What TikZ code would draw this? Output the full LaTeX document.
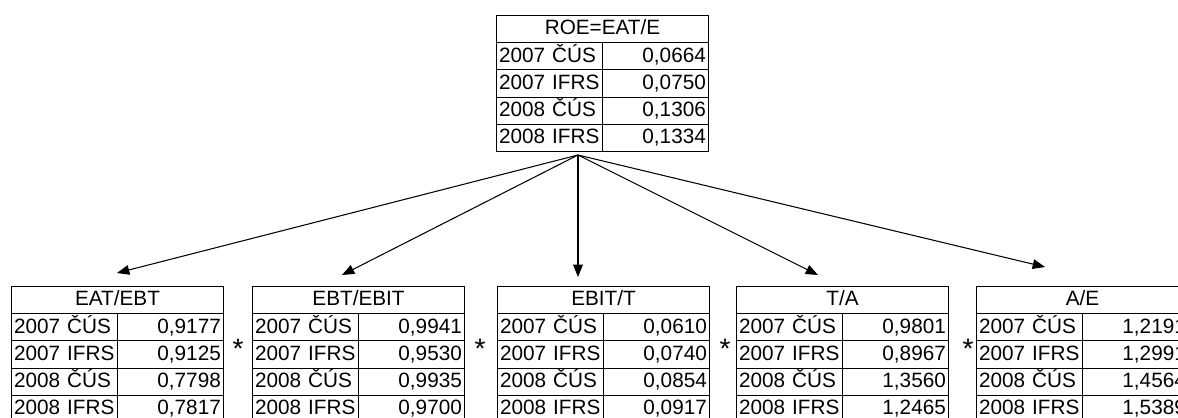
\documentclass[tikz,border=0pt]{standalone}
\usepackage{fontspec}
\setmainfont{Liberation Sans}
\usetikzlibrary{arrows.meta}
\usetikzlibrary{positioning}
\tikzstyle{head}=[shape=rectangle,draw,inner sep=0pt,minimum width=4.24cm,minimum height=0.544cm,text height=9pt,text depth=2.5pt,anchor=north west]
\tikzstyle{lcell}=[shape=rectangle,draw,inner xsep=1.5pt,inner ysep=0pt,text width=2.014cm,align=left,minimum height=0.544cm,text height=9pt,text depth=2.5pt,anchor=north west]
\tikzstyle{rcell}=[shape=rectangle,draw,inner xsep=1.5pt,inner ysep=0pt,text width=2.014cm,align=right,minimum height=0.544cm,text height=9pt,text depth=2.5pt,anchor=north west]
\tikzstyle{tran}=[draw,-{Triangle[length=7pt,width=5.5pt]}]
\tikzstyle{times}=[inner sep=0pt,anchor=base,font=\fontsize{16}{16}\selectfont]
% one ratio table: name, x, y, title, four values
\newcommand{\ratiotab}[8]{%
\node[head] (#1) at (#2,#3) {#4};
\node[lcell] (#1-a) at (#2,#3+27.2) {2007 ČÚS};
\node[rcell] (#1-va) at (#2+106,#3+27.2) {#5};
\node[lcell] (#1-b) at (#2,#3+54.4) {2007 IFRS};
\node[rcell] (#1-vb) at (#2+106,#3+54.4) {#6};
\node[lcell] (#1-c) at (#2,#3+81.6) {2008 ČÚS};
\node[rcell] (#1-vc) at (#2+106,#3+81.6) {#7};
\node[lcell] (#1-d) at (#2,#3+108.8) {2008 IFRS};
\node[rcell] (#1-vd) at (#2+106,#3+108.8) {#8};}

\begin{document}
\begin{tikzpicture}[x=0.02cm, y=-0.02cm, line width=0.6pt, font=\fontsize{11.8}{12}\selectfont]
\useasboundingbox (0,0) rectangle (1178,417);
\clip (0,0) rectangle (1178,417);

\ratiotab{roe}{496}{15}{ROE=EAT/E}{0,0664}{0,0750}{0,1306}{0,1334}

\ratiotab{eat}{11}{286}{EAT/EBT}{0,9177}{0,9125}{0,7798}{0,7817}
\ratiotab{ebt}{252}{286}{EBT/EBIT}{0,9941}{0,9530}{0,9935}{0,9700}
\ratiotab{ebit}{497}{286}{EBIT/T}{0,0610}{0,0740}{0,0854}{0,0917}
\ratiotab{ta}{736}{286}{T/A}{0,9801}{0,8967}{1,3560}{1,2465}
\ratiotab{ae}{976}{286}{A/E}{1,2191}{1,2991}{1,4564}{1,5389}

\node[times] (star1) at (238,358) {*};
\node[times] (star2) at (480,358) {*};
\node[times] (star3) at (725,358) {*};
\node[times] (star4) at (968,358) {*};

\coordinate (root) at (578,155);
\coordinate (tip1) at (117,273);
\coordinate (tip2) at (342,275);
\coordinate (tip3) at (578,277);
\coordinate (tip4) at (818,275);
\coordinate (tip5) at (1045,267);

\draw[tran] (root) -- (tip1);
\draw[tran] (root) -- (tip2);
\draw[tran] (root) -- (tip3);
\draw[tran] (root) -- (tip4);
\draw[tran] (root) -- (tip5);
\end{tikzpicture}
\end{document}
